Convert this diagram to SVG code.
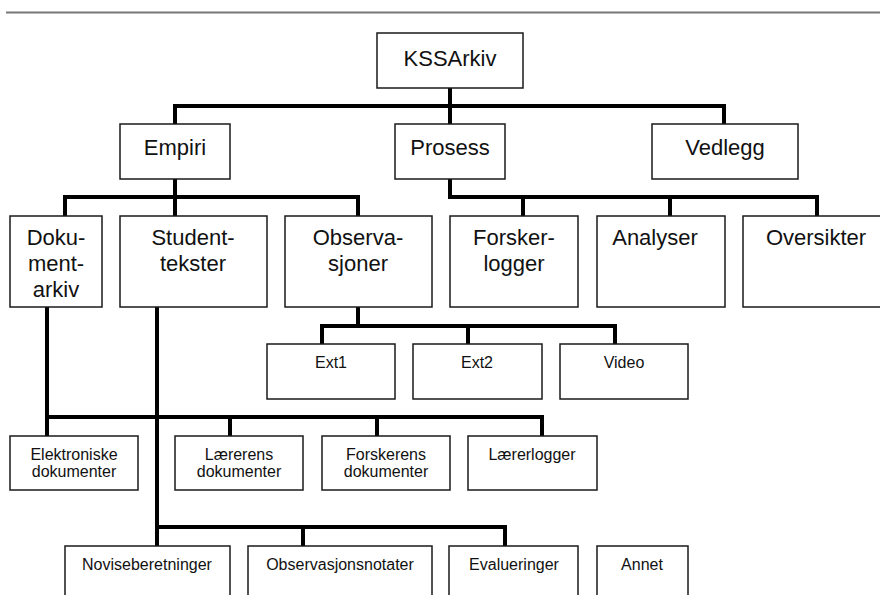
<svg xmlns="http://www.w3.org/2000/svg" width="880" height="595" viewBox="0 0 880 595">
<style>
.b{fill:#fff;stroke:#1a1a1a;stroke-width:1.5}
.t{font-family:"Liberation Sans",Arial,sans-serif;font-size:22px;fill:#111;text-anchor:middle}
.s{font-family:"Liberation Sans",Arial,sans-serif;font-size:16px;fill:#111;text-anchor:middle}
.c{fill:none;stroke:#000;stroke-width:4;stroke-linejoin:miter}
</style>
<rect width="880" height="595" fill="#fff"/>
<line x1="6" y1="12.5" x2="880" y2="12.5" stroke="#777" stroke-width="2"/>
<g id="connectors">
<path class="c" d="M450,88V124M175,124V106H724V124"/>
<path class="c" d="M175,179V216M65,216V197H358V216"/>
<path class="c" d="M450,179V197H817V216M523,197V216M670,197V216"/>
<path class="c" d="M358,307V326M322,344V326H615V344M468,326V344"/>
<path class="c" d="M47,307V436M47,417H542V436M230,417V436M377,417V436"/>
<path class="c" d="M157,307V546M157,527H505V546M303,527V546"/>
</g>
<g id="kssarkiv"><rect class="b" x="377" y="33" width="146" height="55"/><text class="t" x="450" y="66">KSSArkiv</text></g>
<g id="empiri"><rect class="b" x="120" y="124" width="110" height="55"/><text class="t" x="175" y="155">Empiri</text></g>
<g id="prosess"><rect class="b" x="395" y="124" width="110" height="55"/><text class="t" x="450" y="155">Prosess</text></g>
<g id="vedlegg"><rect class="b" x="652" y="124" width="146" height="55"/><text class="t" x="725" y="155">Vedlegg</text></g>
<g id="dokumentarkiv"><rect class="b" x="10" y="216" width="92" height="91"/><text class="t" x="56" y="245">Doku-</text><text class="t" x="56" y="271">ment-</text><text class="t" x="56" y="297">arkiv</text></g>
<g id="studenttekster"><rect class="b" x="120" y="216" width="147" height="91"/><text class="t" x="193" y="245">Student-</text><text class="t" x="193" y="271">tekster</text></g>
<g id="observasjoner"><rect class="b" x="285" y="216" width="147" height="91"/><text class="t" x="358" y="245">Observa-</text><text class="t" x="358" y="271">sjoner</text></g>
<g id="forskerlogger"><rect class="b" x="450" y="216" width="128" height="91"/><text class="t" x="514" y="245">Forsker-</text><text class="t" x="514" y="271">logger</text></g>
<g id="analyser"><rect class="b" x="597" y="216" width="128" height="91"/><text class="t" x="655" y="245">Analyser</text></g>
<g id="oversikter"><rect class="b" x="743" y="216" width="147" height="91"/><text class="t" x="816" y="245">Oversikter</text></g>
<g id="ext1"><rect class="b" x="267" y="344" width="128" height="55"/><text class="s" x="331" y="368">Ext1</text></g>
<g id="ext2"><rect class="b" x="413" y="344" width="129" height="55"/><text class="s" x="477" y="368">Ext2</text></g>
<g id="video"><rect class="b" x="560" y="344" width="128" height="55"/><text class="s" x="624" y="368">Video</text></g>
<g id="elektroniske"><rect class="b" x="10" y="436" width="128" height="54"/><text class="s" x="74" y="460">Elektroniske</text><text class="s" x="74" y="477">dokumenter</text></g>
<g id="laererens"><rect class="b" x="175" y="436" width="128" height="54"/><text class="s" x="239" y="460">Lærerens</text><text class="s" x="239" y="477">dokumenter</text></g>
<g id="forskerens"><rect class="b" x="322" y="436" width="128" height="54"/><text class="s" x="386" y="460">Forskerens</text><text class="s" x="386" y="477">dokumenter</text></g>
<g id="laererlogger"><rect class="b" x="468" y="436" width="129" height="54"/><text class="s" x="532" y="460">Lærerlogger</text></g>
<g id="noviseberetninger"><rect class="b" x="65" y="546" width="165" height="60"/><text class="s" x="147" y="570">Noviseberetninger</text></g>
<g id="observasjonsnotater"><rect class="b" x="248" y="546" width="184" height="60"/><text class="s" x="340" y="570">Observasjonsnotater</text></g>
<g id="evalueringer"><rect class="b" x="449" y="546" width="129" height="60"/><text class="s" x="514" y="570">Evalueringer</text></g>
<g id="annet"><rect class="b" x="597" y="546" width="91" height="60"/><text class="s" x="642" y="570">Annet</text></g>
</svg>
